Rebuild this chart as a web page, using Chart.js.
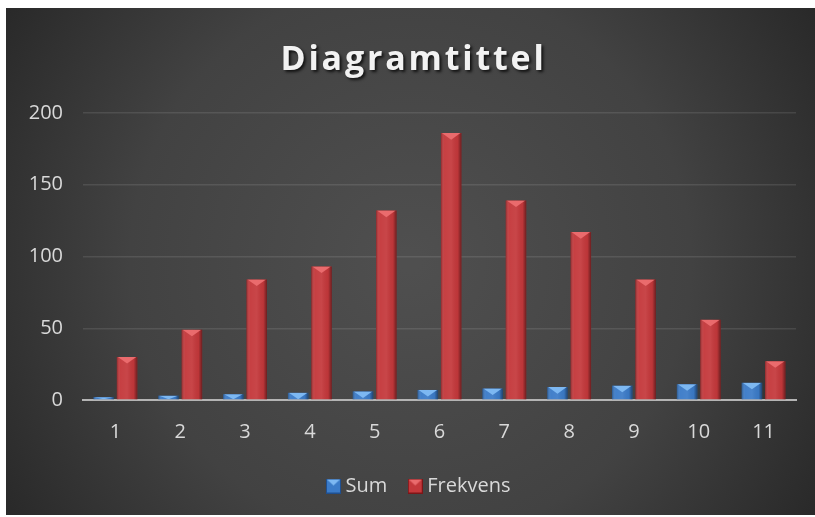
<!DOCTYPE html>
<html>
<head>
<meta charset="utf-8">
<script src="https://cdn.jsdelivr.net/npm/chart.js@4.4.1/dist/chart.umd.min.js"></script>
<style>
  html, body { margin: 0; padding: 0; background: #fff; }
  #wrap { position: absolute; left: 6px; top: 8px; width: 809px; height: 507px; }
</style>
</head>
<body>
<div id="wrap"><canvas id="diceChart"></canvas></div>
<script>
// dice sums and how often each one came up
const categories = ['1', '2', '3', '4', '5', '6', '7', '8', '9', '10', '11'];
const sumValues = [2, 3, 4, 5, 6, 7, 8, 9, 10, 11, 12];
const freqValues = [30, 49, 84, 93, 132, 186, 139, 117, 84, 56, 27];
const seriesNames = ['Sum', 'Frekvens'];
const yMin = 0, yMax = 200, yStep = 50;

const chartTitle = 'Diagramtittel';
const fontFamily = '"Open Sans", "DejaVu Sans", sans-serif';

// body / highlight colours for the two series
const barStyles = [
    { body: '#3b7bc8', top: '#7db8f2', dark: '#1f4f8f' },
    { body: '#c4383b', top: '#ea6b6d', dark: '#7d1517' }
];

// small bevelled squares for the legend
function makeMarker(style) {
    const c = document.createElement('canvas');
    c.width = 15; c.height = 15;
    const g = c.getContext('2d');
    g.fillStyle = style.body;
    g.fillRect(0, 0, 15, 15);
    g.fillStyle = style.top;
    g.beginPath();
    g.moveTo(1, 1); g.lineTo(14, 1); g.lineTo(7.5, 7); g.closePath();
    g.fill();
    g.strokeStyle = style.dark;
    g.strokeRect(0.5, 0.5, 14, 14);
    return c;
}
const markers = barStyles.map(makeMarker);

const background = {
    id: 'background',
    beforeDraw(chart) {
        const ctx = chart.ctx;
        const w = chart.width, h = chart.height;
        const grad = ctx.createRadialGradient(w * 0.5, h * 0.5, 10, w * 0.5, h * 0.5, w * 0.62);
        grad.addColorStop(0, '#4f4f4f');
        grad.addColorStop(0.55, '#424242');
        grad.addColorStop(1, '#262626');
        ctx.save();
        ctx.fillStyle = grad;
        ctx.fillRect(0, 0, w, h);
        ctx.restore();
    }
};

const titleText = {
    id: 'titleText',
    afterDraw(chart) {
        const ctx = chart.ctx;
        ctx.save();
        ctx.font = 'bold 34px ' + fontFamily;
        ctx.letterSpacing = '2.8px';
        ctx.textAlign = 'center';
        ctx.textBaseline = 'middle';
        ctx.shadowColor = 'rgba(0,0,0,0.75)';
        ctx.shadowOffsetX = 2;
        ctx.shadowOffsetY = 2;
        ctx.shadowBlur = 3;
        ctx.fillStyle = '#f2f2f2';
        ctx.fillText(chartTitle, chart.width / 2 + 3, 52);
        ctx.restore();
    }
};

// the legend sits a little right of centre
const legendShift = {
    id: 'legendShift',
    afterLayout(chart) {
        if (chart.legend) {
            chart.legend.left += 20;
            chart.legend.right += 20;
        }
    }
};

// shade every bar and put a bevelled cap on top of it
const bevel = {
    id: 'bevel',
    afterDatasetsDraw(chart) {
        const ctx = chart.ctx;
        chart.data.datasets.forEach((ds, di) => {
            const style = barStyles[di];
            chart.getDatasetMeta(di).data.forEach(bar => {
                const p = bar.getProps(['x', 'y', 'width', 'base'], true);
                const left = p.x - p.width / 2, right = p.x + p.width / 2;
                const h = p.base - p.y;
                if (h <= 0) return;
                ctx.save();
                const g = ctx.createLinearGradient(left, 0, right, 0);
                g.addColorStop(0, 'rgba(0,0,0,0.28)');
                g.addColorStop(0.18, 'rgba(255,255,255,0.04)');
                g.addColorStop(0.5, 'rgba(255,255,255,0.07)');
                g.addColorStop(0.82, 'rgba(0,0,0,0.04)');
                g.addColorStop(1, 'rgba(0,0,0,0.45)');
                ctx.fillStyle = g;
                ctx.fillRect(left, p.y, p.width, h);
                const cap = Math.min(p.width * 0.32, h);
                ctx.beginPath();
                ctx.rect(left, p.y, p.width, h);
                ctx.clip();
                ctx.fillStyle = style.top;
                ctx.beginPath();
                ctx.moveTo(left + 1, p.y);
                ctx.lineTo(right - 1, p.y);
                ctx.lineTo(p.x, p.y + cap);
                ctx.closePath();
                ctx.fill();
                ctx.restore();
            });
        });
    }
};

const ctx = document.getElementById('diceChart').getContext('2d');
new Chart(ctx, {
    type: 'bar',
    data: {
        labels: categories,
        datasets: [{
            label: seriesNames[0],
            data: sumValues,
            backgroundColor: barStyles[0].body,
            categoryPercentage: 0.72,
            barPercentage: 0.88
        }, {
            label: seriesNames[1],
            data: freqValues,
            backgroundColor: barStyles[1].body,
            categoryPercentage: 0.72,
            barPercentage: 0.88
        }]
    },
    options: {
        responsive: true,
        maintainAspectRatio: false,
        animation: false,
        layout: {
            padding: { top: 105, right: 19, bottom: 9, left: 0 }
        },
        scales: {
            x: {
                grid: { display: false },
                border: { display: true, color: '#b4b4b4', width: 2 },
                ticks: {
                    color: '#d9d9d9',
                    font: { family: fontFamily, size: 20 },
                    padding: 12
                },
                afterFit(scale) { scale.height = 50; }
            },
            y: {
                min: yMin,
                max: yMax,
                ticks: {
                    stepSize: yStep,
                    color: '#d9d9d9',
                    font: { family: fontFamily, size: 20 },
                    padding: 20
                },
                grid: {
                    drawTicks: false,
                    color: c => c.tick.value === 0 ? 'rgba(0,0,0,0)' : 'rgba(255,255,255,0.1)',
                    lineWidth: 1.5
                },
                border: { display: false },
                afterFit(scale) { scale.width = 77; }
            }
        },
        plugins: {
            title: { display: false },
            tooltip: { enabled: false },
            legend: {
                position: 'bottom',
                labels: {
                    color: '#d9d9d9',
                    font: { family: fontFamily, size: 20 },
                    usePointStyle: true,
                    pointStyleWidth: 4,
                    padding: 26,
                    generateLabels(chart) {
                        return chart.data.datasets.map((ds, i) => ({
                            text: ds.label,
                            fillStyle: barStyles[i].body,
                            pointStyle: markers[i],
                            fontColor: '#d9d9d9',
                            hidden: false,
                            datasetIndex: i
                        }));
                    }
                }
            }
        }
    },
    plugins: [background, bevel, titleText, legendShift]
});
</script>
</body>
</html>
